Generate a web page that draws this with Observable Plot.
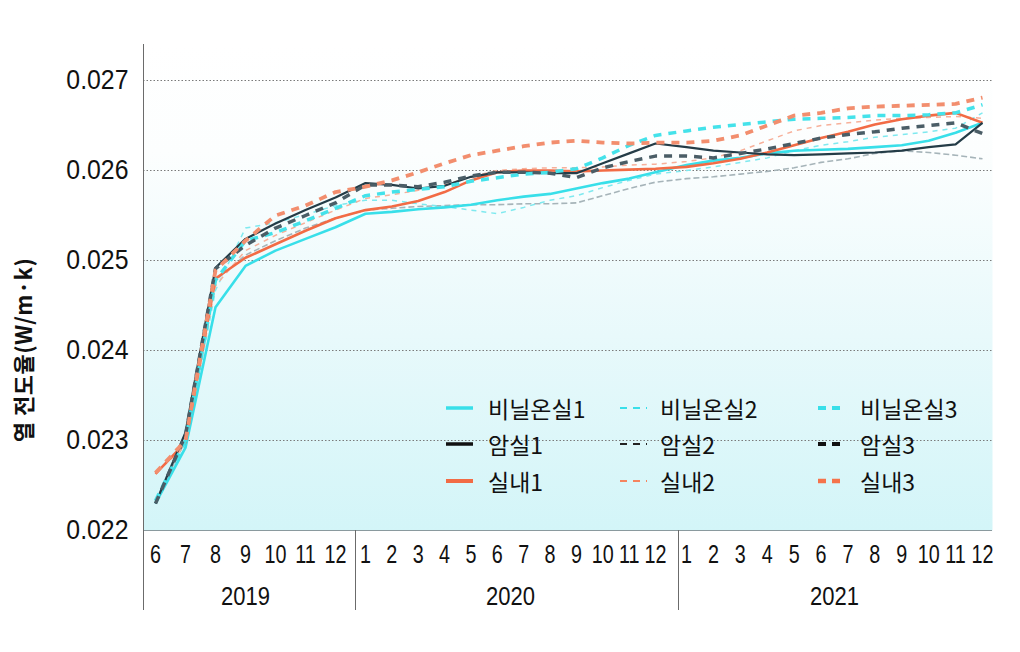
<!DOCTYPE html>
<html>
<head>
<meta charset="utf-8">
<script src="https://cdn.jsdelivr.net/npm/d3@7"></script>
<script src="https://cdn.jsdelivr.net/npm/@observablehq/plot@0.6"></script>
<style>
  body { margin: 0; background: #fff; }
  #wrap { position: relative; width: 1020px; height: 652px; overflow: hidden; }
  #legend { position: absolute; left: 0; top: 0; width: 1020px; height: 652px; pointer-events: none;
            font-family: "Noto Sans CJK KR", "Noto Sans", sans-serif; font-size: 23px; color: #111; }
  .item { position: absolute; display: flex; align-items: center; height: 30px; }
  .item svg { display: block; }
  #ytitle { position: absolute; left: 22px; top: 350px; transform: translate(-50%, -50%) rotate(-90deg);
            white-space: nowrap; font-family: "Noto Sans CJK KR", sans-serif; font-weight: 700; font-size: 22px;
            letter-spacing: 0.5px; color: #111; }
</style>
</head>
<body>
<div id="wrap"><div id="legend"></div><div id="ytitle">열 전도율(W/m·k)</div></div>
<script>
// Measurement months: Jun–Dec 2019, Jan–Dec 2020, Jan–Dec 2021
const years = ["2019", "2020", "2021"];
const monthLabels = [6, 7, 8, 9, 10, 11, 12,
  1, 2, 3, 4, 5, 6, 7, 8, 9, 10, 11, 12,
  1, 2, 3, 4, 5, 6, 7, 8, 9, 10, 11, 12];
const yearStarts = [0, 7, 19];          // first month index of each year
const yTicks = [0.022, 0.023, 0.024, 0.025, 0.026, 0.027];

// Thermal conductivity (W/m·K) per storage condition
const vinyl1 = [0.02230, 0.02292, 0.02448, 0.02494, 0.02511, 0.02524, 0.02537,
  0.02552, 0.02554, 0.02557, 0.02559, 0.02562, 0.02567, 0.02571, 0.02574, 0.02580, 0.02586, 0.02591, 0.02598,
  0.02606, 0.02611, 0.02614, 0.02619, 0.02622, 0.02623, 0.02624, 0.02626, 0.02628, 0.02633, 0.02642, 0.02653];
const vinyl2 = [0.02233, 0.02294, 0.02467, 0.02536, 0.02542, 0.02551, 0.02561,
  0.02567, 0.02567, 0.02563, 0.02560, 0.02556, 0.02552, 0.02559, 0.02567, 0.02572, 0.02581, 0.02589, 0.02596,
  0.02600, 0.02604, 0.02609, 0.02614, 0.02622, 0.02628, 0.02632, 0.02637, 0.02640, 0.02643, 0.02647, 0.02664];
const vinyl3 = [0.02233, 0.02300, 0.02478, 0.02522, 0.02531, 0.02544, 0.02558,
  0.02572, 0.02576, 0.02579, 0.02582, 0.02588, 0.02592, 0.02596, 0.02598, 0.02602, 0.02614, 0.02628, 0.02639,
  0.02644, 0.02648, 0.02651, 0.02654, 0.02657, 0.02658, 0.02659, 0.02661, 0.02661, 0.02662, 0.02664, 0.02673];
const dark1 = [0.02230, 0.02309, 0.02492, 0.02524, 0.02541, 0.02556, 0.02570,
  0.02586, 0.02584, 0.02580, 0.02583, 0.02593, 0.02598, 0.02598, 0.02597, 0.02597, 0.02608, 0.02619, 0.02630,
  0.02626, 0.02622, 0.02620, 0.02618, 0.02617, 0.02618, 0.02619, 0.02620, 0.02622, 0.02626, 0.02629, 0.02653];
const dark2 = [0.02233, 0.02300, 0.02478, 0.02506, 0.02522, 0.02536, 0.02547,
  0.02556, 0.02558, 0.02560, 0.02561, 0.02562, 0.02562, 0.02563, 0.02563, 0.02564, 0.02572, 0.02580, 0.02587,
  0.02591, 0.02593, 0.02596, 0.02599, 0.02603, 0.02609, 0.02613, 0.02619, 0.02622, 0.02620, 0.02617, 0.02613];
const dark3 = [0.02230, 0.02306, 0.02491, 0.02517, 0.02536, 0.02550, 0.02564,
  0.02584, 0.02584, 0.02582, 0.02587, 0.02594, 0.02598, 0.02598, 0.02597, 0.02592, 0.02603, 0.02610, 0.02616,
  0.02616, 0.02614, 0.02619, 0.02624, 0.02630, 0.02636, 0.02640, 0.02643, 0.02647, 0.02650, 0.02653, 0.02641];
const indoor1 = [0.02263, 0.02298, 0.02480, 0.02503, 0.02518, 0.02533, 0.02547,
  0.02556, 0.02560, 0.02566, 0.02576, 0.02589, 0.02598, 0.02600, 0.02600, 0.02599, 0.02600, 0.02601, 0.02602,
  0.02604, 0.02608, 0.02613, 0.02620, 0.02628, 0.02636, 0.02643, 0.02651, 0.02657, 0.02661, 0.02664, 0.02653];
const indoor2 = [0.02264, 0.02294, 0.02472, 0.02511, 0.02528, 0.02542, 0.02556,
  0.02569, 0.02573, 0.02578, 0.02584, 0.02593, 0.02600, 0.02602, 0.02603, 0.02603, 0.02604, 0.02606, 0.02607,
  0.02610, 0.02614, 0.02622, 0.02633, 0.02644, 0.02650, 0.02653, 0.02656, 0.02658, 0.02659, 0.02660, 0.02658];
const indoor3 = [0.02264, 0.02300, 0.02489, 0.02522, 0.02550, 0.02561, 0.02576,
  0.02582, 0.02589, 0.02598, 0.02608, 0.02617, 0.02622, 0.02627, 0.02631, 0.02633, 0.02631, 0.02630, 0.02631,
  0.02631, 0.02633, 0.02639, 0.02650, 0.02661, 0.02664, 0.02669, 0.02671, 0.02672, 0.02673, 0.02674, 0.02681];

// Line styles: legend order (row by row) and drawing order
const CYAN = "#38dfe9", DARK = "#243c47", ORANGE = "#f26b45";
const series = [
  {name: "비닐온실1", values: vinyl1, stroke: CYAN, width: 2.6, dash: null, swatch: CYAN, sw: 3.5},
  {name: "비닐온실2", values: vinyl2, stroke: "#7fe9ef", width: 1.5, dash: "5,5", swatch: CYAN, sw: 2, sdash: "7,6"},
  {name: "비닐온실3", values: vinyl3, stroke: "#44e2ea", width: 3.5, dash: "8,7", swatch: CYAN, sw: 4, sdash: "8,6"},
  {name: "암실1", values: dark1, stroke: DARK, width: 2.2, dash: null, swatch: "#111", sw: 3.5},
  {name: "암실2", values: dark2, stroke: "#a6b4b9", width: 1.6, dash: "6,3", swatch: "#222", sw: 2, sdash: "7,6"},
  {name: "암실3", values: dark3, stroke: "#4a5d66", width: 3.5, dash: "8,7", swatch: "#111", sw: 4, sdash: "8,6"},
  {name: "실내1", values: indoor1, stroke: ORANGE, width: 2.6, dash: null, swatch: ORANGE, sw: 4},
  {name: "실내2", values: indoor2, stroke: "#f7b09a", width: 1.5, dash: "5,5", swatch: "#f5845f", sw: 2, sdash: "7,6"},
  {name: "실내3", values: indoor3, stroke: "#f28e6e", width: 3.8, dash: "8,7", swatch: "#f5734b", sw: 4.5, sdash: "8,6"}
];
const drawOrder = ["암실2", "비닐온실2", "실내2", "비닐온실1", "실내1", "암실1", "비닐온실3", "암실3", "실내3"];

const rows = series.flatMap(s => s.values.map((v, i) => ({series: s.name, i, v})));
const yearCenters = yearStarts.map((s, k) => (s + (k < 2 ? yearStarts[k + 1] : monthLabels.length) - 1) / 2);
const boundaries = [-0.5, 6.5, 18.5];

// Background gradient for the plotting area
const gradientDefs = () => {
  const defs = d3.create("svg:defs");
  const g = defs.append("linearGradient").attr("id", "plotBg")
    .attr("x1", 0).attr("y1", 0).attr("x2", 0).attr("y2", 1);
  g.append("stop").attr("offset", "0%").attr("stop-color", "#ffffff");
  g.append("stop").attr("offset", "22%").attr("stop-color", "#fcfefe");
  g.append("stop").attr("offset", "60%").attr("stop-color", "#e8f9fb");
  g.append("stop").attr("offset", "100%").attr("stop-color", "#d3f5f8");
  return defs.node();
};

const numFont = "'Liberation Sans', Arial, sans-serif";

const chart = Plot.plot({
  width: 1020,
  height: 652,
  marginLeft: 143,
  marginRight: 28,
  marginTop: 44,
  marginBottom: 122,
  style: {background: "transparent", color: "#111", overflow: "visible"},
  x: {
    type: "linear",
    domain: [-0.5, 0, 6, 6.5, 7, 18, 18.5, 19, 30, 30.5],
    range: [143, 155, 335, 355, 365, 655, 678, 686, 982, 992]
  },
  y: {domain: [0.022, 0.0274]},
  marks: [
    gradientDefs,
    Plot.frame({fill: "url(#plotBg)", stroke: null}),
    Plot.ruleY(yTicks.slice(1), {stroke: "#7a7a7a", strokeWidth: 1, strokeDasharray: "1.5,2"}),
    Plot.ruleY([0.022], {stroke: "#8a9a9e", strokeWidth: 1}),
    Plot.ruleX([boundaries[0]], {stroke: "#6b6b6b", strokeWidth: 1}),
    ...drawOrder.map(name => {
      const s = series.find(d => d.name === name);
      return Plot.line(rows.filter(r => r.series === name), {
        x: "i", y: "v", stroke: s.stroke, strokeWidth: s.width,
        strokeDasharray: s.dash ?? undefined, strokeLinejoin: "round", strokeLinecap: "butt"
      });
    }),
    Plot.axisY(yTicks, {
      tickFormat: d3.format(".3f"), tickSize: 0, tickPadding: 15, label: null,
      fontSize: 27, fontFamily: numFont
    }),
    Plot.axisX(d3.range(monthLabels.length), {
      tickFormat: i => monthLabels[i], tickSize: 0, tickPadding: 14, label: null,
      fontSize: 26, fontFamily: numFont
    }),
    Plot.axisX(yearCenters, {
      tickFormat: (d, k) => years[k], tickSize: 0, tickPadding: 57, label: null,
      fontSize: 25, fontFamily: numFont
    }),
    Plot.axisX(boundaries, {tickSize: 80, tickFormat: () => "", stroke: "#6b6b6b", label: null})
  ]
});
document.getElementById("wrap").prepend(chart);

// Tall, narrow numerals on the axes: squeeze each label horizontally about its anchor
function condense(selector, scaleFor) {
  chart.querySelectorAll(selector).forEach(t => {
    const s = scaleFor(t.textContent);
    const tr = t.getAttribute("transform");
    if (tr) {
      t.setAttribute("transform", `${tr} scale(${s},1)`);
    } else {
      const x = +t.getAttribute("x") || 0, y = +t.getAttribute("y") || 0;
      t.removeAttribute("x");
      t.removeAttribute("y");
      t.setAttribute("transform", `translate(${x},${y}) scale(${s},1)`);
    }
  });
}
condense('g[aria-label="x-axis tick label"] text', txt => txt.length === 4 ? 0.88 : 0.76);
condense('g[aria-label="y-axis tick label"] text', () => 0.92);

// Legend: three columns inside the plotting area
const legendCols = [446, 620, 818];
const legendText = [488, 660, 860];
const legendRows = [408, 444, 481];
const legend = d3.select("#legend");
series.forEach((s, k) => {
  const col = k % 3, row = Math.floor(k / 3);
  const item = legend.append("div").attr("class", "item")
    .style("left", legendCols[col] + "px").style("top", (legendRows[row] - 15) + "px");
  const svg = item.append("svg").attr("width", legendText[col] - legendCols[col]).attr("height", 30);
  svg.append("line").attr("x1", 0).attr("x2", 27).attr("y1", 15).attr("y2", 15)
    .attr("stroke", s.swatch).attr("stroke-width", s.sw)
    .attr("stroke-dasharray", s.sdash ?? null);
  item.append("span").text(s.name);
});
</script>
</body>
</html>
